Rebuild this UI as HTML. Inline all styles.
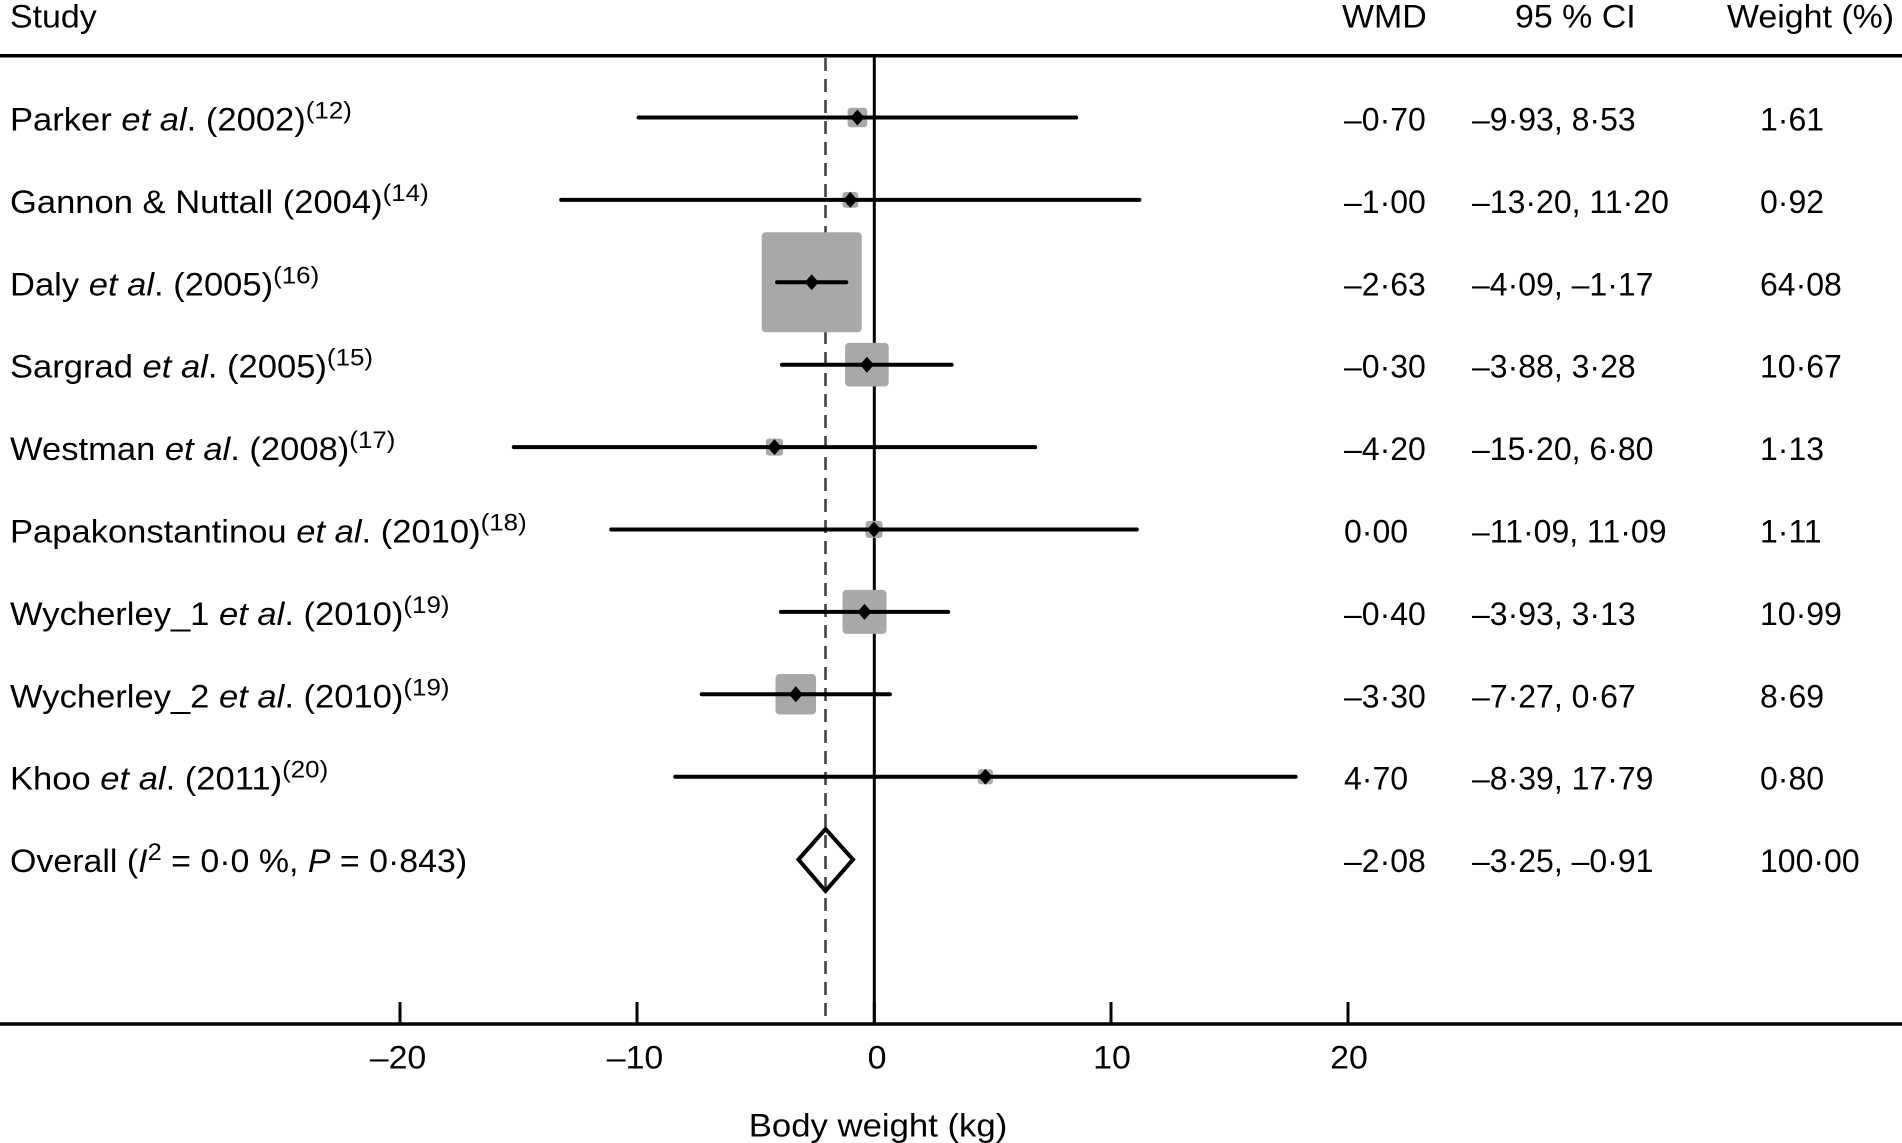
<!DOCTYPE html>
<html>
<head>
<meta charset="utf-8">
<style>
  html, body { margin: 0; padding: 0; background: #ffffff; }
  svg { display: block; }
  text { font-family: "Liberation Sans", Arial, sans-serif; font-size: 32px; fill: #000; }
</style>
</head>
<body>
<svg width="1902" height="1143" viewBox="0 0 1902 1143" xmlns="http://www.w3.org/2000/svg">
  <rect x="0" y="0" width="1902" height="1143" fill="#fff"/>

  <!-- header -->
  <text transform="translate(10,27.5) scale(1.06,1)">Study</text>
  <text transform="translate(1342,27.5) scale(1.06,1)">WMD</text>
  <text transform="translate(1515,27.5) scale(1.06,1)">95 % CI</text>
  <text transform="translate(1727,27.5) scale(1.06,1)">Weight (%)</text>
  <line x1="0" y1="55.7" x2="1902" y2="55.7" stroke="#000" stroke-width="3.5"/>

  <!-- reference lines -->
  <line x1="874.3" y1="56" x2="874.3" y2="1024" stroke="#000" stroke-width="3"/>
  <line x1="825.5" y1="58" x2="825.5" y2="1022" stroke="#444" stroke-width="2.6" stroke-dasharray="13 8"/>

  <!-- squares -->
  <g fill="#a8a8a8">
    <rect x="847.65" y="107.75" width="19.5" height="19.5" rx="3"/>
    <rect x="842.4" y="192.0" width="15.8" height="15.8" rx="3"/>
    <rect x="761.7" y="232.3" width="100" height="100" rx="4"/>
    <rect x="845.1" y="342.9" width="43.6" height="43.6" rx="4"/>
    <rect x="766.0" y="438.6" width="17" height="17" rx="3"/>
    <rect x="865.55" y="521.05" width="16.9" height="16.9" rx="3"/>
    <rect x="842.5" y="589.9" width="44" height="44" rx="4"/>
    <rect x="775.55" y="674.05" width="40.5" height="40.5" rx="4"/>
    <rect x="977.9" y="769.2" width="15" height="15" rx="3"/>
  </g>

  <!-- CI lines -->
  <g stroke="#000" stroke-width="4" stroke-linecap="round">
    <line x1="638.6" y1="117.5" x2="1076.2" y2="117.5"/>
    <line x1="561.2" y1="199.9" x2="1139.4" y2="199.9"/>
    <line x1="777.1" y1="282.3" x2="846.3" y2="282.3"/>
    <line x1="782.0" y1="364.7" x2="951.7" y2="364.7"/>
    <line x1="513.8" y1="447.1" x2="1035.2" y2="447.1"/>
    <line x1="611.2" y1="529.5" x2="1136.8" y2="529.5"/>
    <line x1="780.9" y1="611.9" x2="948.2" y2="611.9"/>
    <line x1="701.7" y1="694.3" x2="889.9" y2="694.3"/>
    <line x1="675.2" y1="776.7" x2="1295.6" y2="776.7"/>
  </g>

  <!-- point diamonds -->
  <g fill="#000">
    <polygon points="850.4,117.5 857.4,109.5 864.4,117.5 857.4,125.5"/>
    <polygon points="843.3,199.9 850.3,191.9 857.3,199.9 850.3,207.9"/>
    <polygon points="804.7,282.3 811.7,274.3 818.7,282.3 811.7,290.3"/>
    <polygon points="859.9,364.7 866.9,356.7 873.9,364.7 866.9,372.7"/>
    <polygon points="767.5,447.1 774.5,439.1 781.5,447.1 774.5,455.1"/>
    <polygon points="867.0,529.5 874.0,521.5 881.0,529.5 874.0,537.5"/>
    <polygon points="857.5,611.9 864.5,603.9 871.5,611.9 864.5,619.9"/>
    <polygon points="788.8,694.3 795.8,686.3 802.8,694.3 795.8,702.3"/>
    <polygon points="978.4,776.7 985.4,768.7 992.4,776.7 985.4,784.7"/>
  </g>

  <!-- overall diamond -->
  <polygon points="798.5,859.5 825.5,829 853,859.5 825.5,891" fill="none" stroke="#000" stroke-width="4" stroke-linejoin="miter"/>

  <!-- study labels -->
  <text transform="translate(10,130.5) scale(1.08,1)">Parker <tspan font-style="italic">et al</tspan>. (2002)<tspan font-size="24" dy="-12">(12)</tspan></text>
  <text transform="translate(10,212.9) scale(1.08,1)">Gannon &amp; Nuttall (2004)<tspan font-size="24" dy="-12">(14)</tspan></text>
  <text transform="translate(10,295.3) scale(1.08,1)">Daly <tspan font-style="italic">et al</tspan>. (2005)<tspan font-size="24" dy="-12">(16)</tspan></text>
  <text transform="translate(10,377.7) scale(1.08,1)">Sargrad <tspan font-style="italic">et al</tspan>. (2005)<tspan font-size="24" dy="-12">(15)</tspan></text>
  <text transform="translate(10,460.1) scale(1.08,1)">Westman <tspan font-style="italic">et al</tspan>. (2008)<tspan font-size="24" dy="-12">(17)</tspan></text>
  <text transform="translate(10,542.5) scale(1.08,1)">Papakonstantinou <tspan font-style="italic">et al</tspan>. (2010)<tspan font-size="24" dy="-12">(18)</tspan></text>
  <text transform="translate(10,624.9) scale(1.08,1)">Wycherley_1 <tspan font-style="italic">et al</tspan>. (2010)<tspan font-size="24" dy="-12">(19)</tspan></text>
  <text transform="translate(10,707.3) scale(1.08,1)">Wycherley_2 <tspan font-style="italic">et al</tspan>. (2010)<tspan font-size="24" dy="-12">(19)</tspan></text>
  <text transform="translate(10,789.7) scale(1.08,1)">Khoo <tspan font-style="italic">et al</tspan>. (2011)<tspan font-size="24" dy="-12">(20)</tspan></text>
  <text transform="translate(10,872.1) scale(1.06,1)">Overall (<tspan font-style="italic">I</tspan><tspan font-size="24" dy="-12">2</tspan><tspan dy="12"> = 0·0 %, </tspan><tspan font-style="italic">P</tspan> = 0·843)</text>

  <!-- WMD column -->
  <g>
    <text transform="translate(1344,130.5)">–0·70</text>
    <text transform="translate(1344,212.9)">–1·00</text>
    <text transform="translate(1344,295.3)">–2·63</text>
    <text transform="translate(1344,377.7)">–0·30</text>
    <text transform="translate(1344,460.1)">–4·20</text>
    <text transform="translate(1344,542.5)">0·00</text>
    <text transform="translate(1344,624.9)">–0·40</text>
    <text transform="translate(1344,707.3)">–3·30</text>
    <text transform="translate(1344,789.7)">4·70</text>
    <text transform="translate(1344,872.1)">–2·08</text>
  </g>

  <!-- CI column -->
  <g>
    <text transform="translate(1472,130.5)">–9·93, 8·53</text>
    <text transform="translate(1472,212.9)">–13·20, 11·20</text>
    <text transform="translate(1472,295.3)">–4·09, –1·17</text>
    <text transform="translate(1472,377.7)">–3·88, 3·28</text>
    <text transform="translate(1472,460.1)">–15·20, 6·80</text>
    <text transform="translate(1472,542.5)">–11·09, 11·09</text>
    <text transform="translate(1472,624.9)">–3·93, 3·13</text>
    <text transform="translate(1472,707.3)">–7·27, 0·67</text>
    <text transform="translate(1472,789.7)">–8·39, 17·79</text>
    <text transform="translate(1472,872.1)">–3·25, –0·91</text>
  </g>

  <!-- Weight column -->
  <g>
    <text transform="translate(1760,130.5)">1·61</text>
    <text transform="translate(1760,212.9)">0·92</text>
    <text transform="translate(1760,295.3)">64·08</text>
    <text transform="translate(1760,377.7)">10·67</text>
    <text transform="translate(1760,460.1)">1·13</text>
    <text transform="translate(1760,542.5)">1·11</text>
    <text transform="translate(1760,624.9)">10·99</text>
    <text transform="translate(1760,707.3)">8·69</text>
    <text transform="translate(1760,789.7)">0·80</text>
    <text transform="translate(1760,872.1)">100·00</text>
  </g>

  <!-- x axis -->
  <line x1="0" y1="1024" x2="1902" y2="1024" stroke="#000" stroke-width="3.5"/>
  <g stroke="#000" stroke-width="3">
    <line x1="400" y1="1002" x2="400" y2="1024"/>
    <line x1="637" y1="1002" x2="637" y2="1024"/>
    <line x1="874.3" y1="1002" x2="874.3" y2="1024"/>
    <line x1="1111" y1="1002" x2="1111" y2="1024"/>
    <line x1="1348" y1="1002" x2="1348" y2="1024"/>
  </g>
  <g text-anchor="middle">
    <text transform="translate(398,1068.5) scale(1.06,1)">–20</text>
    <text transform="translate(635,1068.5) scale(1.06,1)">–10</text>
    <text transform="translate(877,1068.5) scale(1.06,1)">0</text>
    <text transform="translate(1112,1068.5) scale(1.06,1)">10</text>
    <text transform="translate(1349,1068.5) scale(1.06,1)">20</text>
    <text transform="translate(878,1136.5) scale(1.085,1)">Body weight (kg)</text>
  </g>
</svg>
</body>
</html>
